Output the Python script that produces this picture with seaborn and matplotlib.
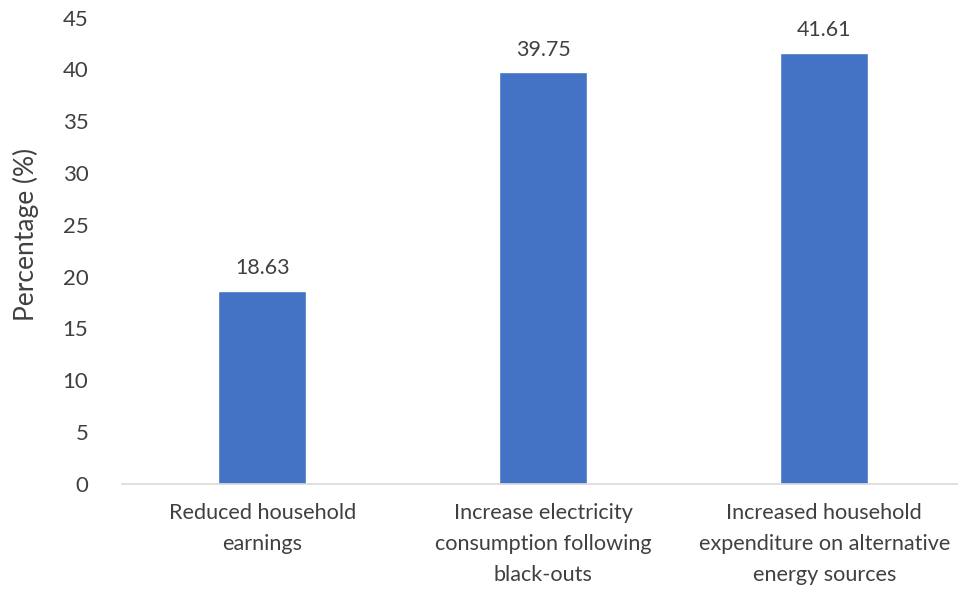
import matplotlib
matplotlib.use("Agg")
import matplotlib.pyplot as plt
import seaborn as sns
import pandas as pd

categories = [
    "Reduced household\nearnings",
    "Increase electricity\nconsumption following\nblack-outs",
    "Increased household\nexpenditure on alternative\nenergy sources",
]
values = [18.63, 39.75, 41.61]
yticks = [0, 5, 10, 15, 20, 25, 30, 35, 40, 45]

sns.set_theme(style="white")
plt.rcParams["font.family"] = ["Lato", "DejaVu Sans"]

df = pd.DataFrame({"category": categories, "value": values})

fig = plt.figure(figsize=(9.58, 5.90), dpi=100)
ax = fig.add_axes([0.127, 0.18, 0.88, 0.79])

sns.barplot(data=df, x="category", y="value", color="#4472C4", width=0.313,
            saturation=1, ax=ax)

for i, v in enumerate(values):
    ax.text(i, v + 1.2, f"{v:.2f}", ha="center", va="bottom",
            fontsize=15.4, color="#404040")

ax.set_ylim(0, 45)
ax.set_yticks(yticks)
ax.set_xlim(-0.5, 2.5)
ax.set_xlabel("")
ax.set_ylabel("Percentage (%)", fontsize=19, color="#404040")
ax.yaxis.set_label_coords(-0.098, 0.536)
ax.tick_params(axis="y", labelsize=16, colors="#404040", length=0, pad=24)
ax.tick_params(axis="x", labelsize=15.6, colors="#404040", length=0, pad=14)
for lbl in ax.get_xticklabels():
    lbl.set_linespacing(1.68)
for s in ["top", "right", "left"]:
    ax.spines[s].set_visible(False)
ax.spines["bottom"].set_color("#D9D9D9")
ax.spines["bottom"].set_linewidth(1.2)

fig.savefig("out.png", dpi=100, facecolor="white")
